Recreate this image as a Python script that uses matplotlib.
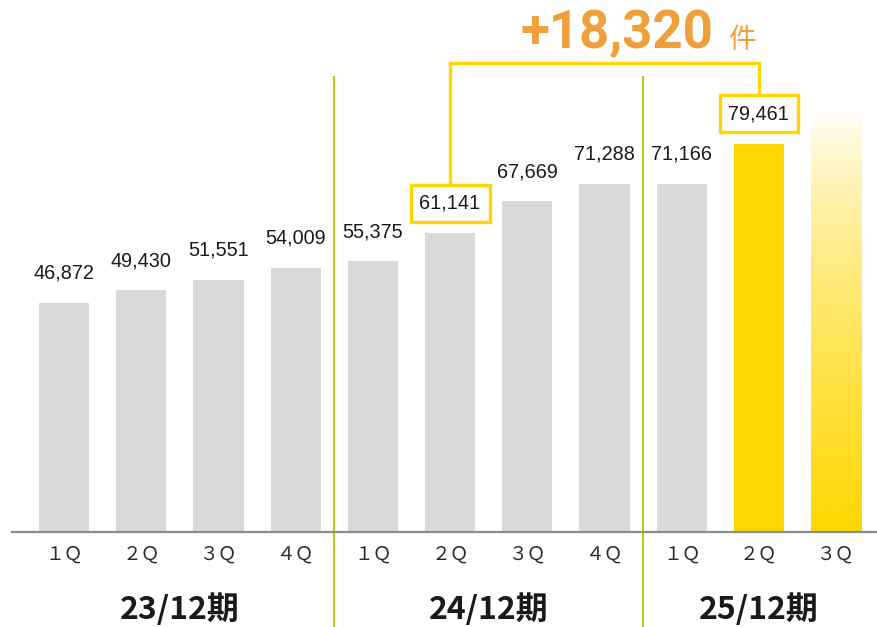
import numpy as np
import matplotlib.pyplot as plt
from matplotlib.colors import to_rgb

# data
quarters = ['１Ｑ', '２Ｑ', '３Ｑ', '４Ｑ', '１Ｑ', '２Ｑ', '３Ｑ', '４Ｑ', '１Ｑ', '２Ｑ', '３Ｑ']
values = [46872, 49430, 51551, 54009, 55375, 61141, 67669, 71288, 71166, 79461]
periods = ['23/12期', '24/12期', '25/12期']
period_centers = [1.5, 5.5, 9.0]
forecast_height = 85800  # faded placeholder bar for 25/12 3Q
diff_label = '+18,320'
diff_unit = '件'

GREY = '#d9d9d9'
GOLD = '#ffd700'
ORANGE = '#f0a03a'
GREEN = '#a9d21a'

fig = plt.figure(figsize=(8.77, 6.27), dpi=100)
ax = fig.add_axes([12 / 877, 95 / 627, 865 / 877, 532 / 627])

x = np.arange(len(values))
colors = [GREY] * (len(values) - 1) + [GOLD]
bw = 0.65
ax.bar(x, values, width=bw, color=colors, zorder=2)

# gradient bar for the coming quarter
xf = len(values)
grad = np.ones((256, 1, 4))
grad[:, 0, :3] = to_rgb(GOLD)
grad[:, 0, 3] = np.linspace(1, 0.0, 256) ** 0.7
ax.imshow(grad, extent=[xf - bw / 2, xf + bw / 2, 0, forecast_height],
          origin='lower', aspect='auto', zorder=2)

ymax = 108880
ax.set_xlim(-0.674, 10.53)
ax.set_ylim(0, ymax)

# value labels
boxed = {5, 9}
for i, v in enumerate(values):
    kw = {}
    if i in boxed:
        kw['bbox'] = dict(boxstyle='square,pad=0.45', fc='white', ec=GOLD, lw=2.4)
    ax.annotate(f'{v:,}', (i, v), xytext=(0, 21.5), textcoords='offset points',
                ha='center', va='center', fontsize=14.3, family='Liberation Sans',
                color='#1a1a1a', zorder=6, **kw)

# bracket linking the two boxed values
ytop = 96000
ax.plot([5, 5, 9, 9], [68000, ytop, ytop, 85000], color=GOLD, lw=2.4,
        solid_joinstyle='miter', zorder=4, clip_on=False)
ax.text(8.41, 99100, diff_label, ha='right', va='baseline', fontsize=38,
        fontweight='bold', family='Roboto', color=ORANGE)
ax.text(8.60, 99100, diff_unit, ha='left', va='baseline', fontsize=20,
        family='Noto Sans CJK JP', color=ORANGE)

# period separators
for sx in [3.5, 7.5]:
    ax.axvline(sx, ymin=-0.18, ymax=0.855, color=GREEN, lw=1.5, clip_on=False, zorder=1)

# axes styling
for s in ['top', 'right', 'left']:
    ax.spines[s].set_visible(False)
ax.spines['bottom'].set_color('#8c8c8c')
ax.spines['bottom'].set_linewidth(1.6)
ax.set_yticks([])
ax.set_xticks(list(x) + [xf])
ax.set_xticklabels(quarters, family='Noto Sans CJK JP', fontsize=13.5, color='#2a2a2a')
ax.tick_params(axis='x', length=0, pad=8)

for c, p in zip(period_centers, periods):
    ax.text(c, -0.146, p, transform=ax.get_xaxis_transform(), ha='center', va='center',
            fontsize=23, fontweight='bold', family='Noto Sans CJK JP', color='#1a1a1a')

fig.savefig('out.png', dpi=100)
